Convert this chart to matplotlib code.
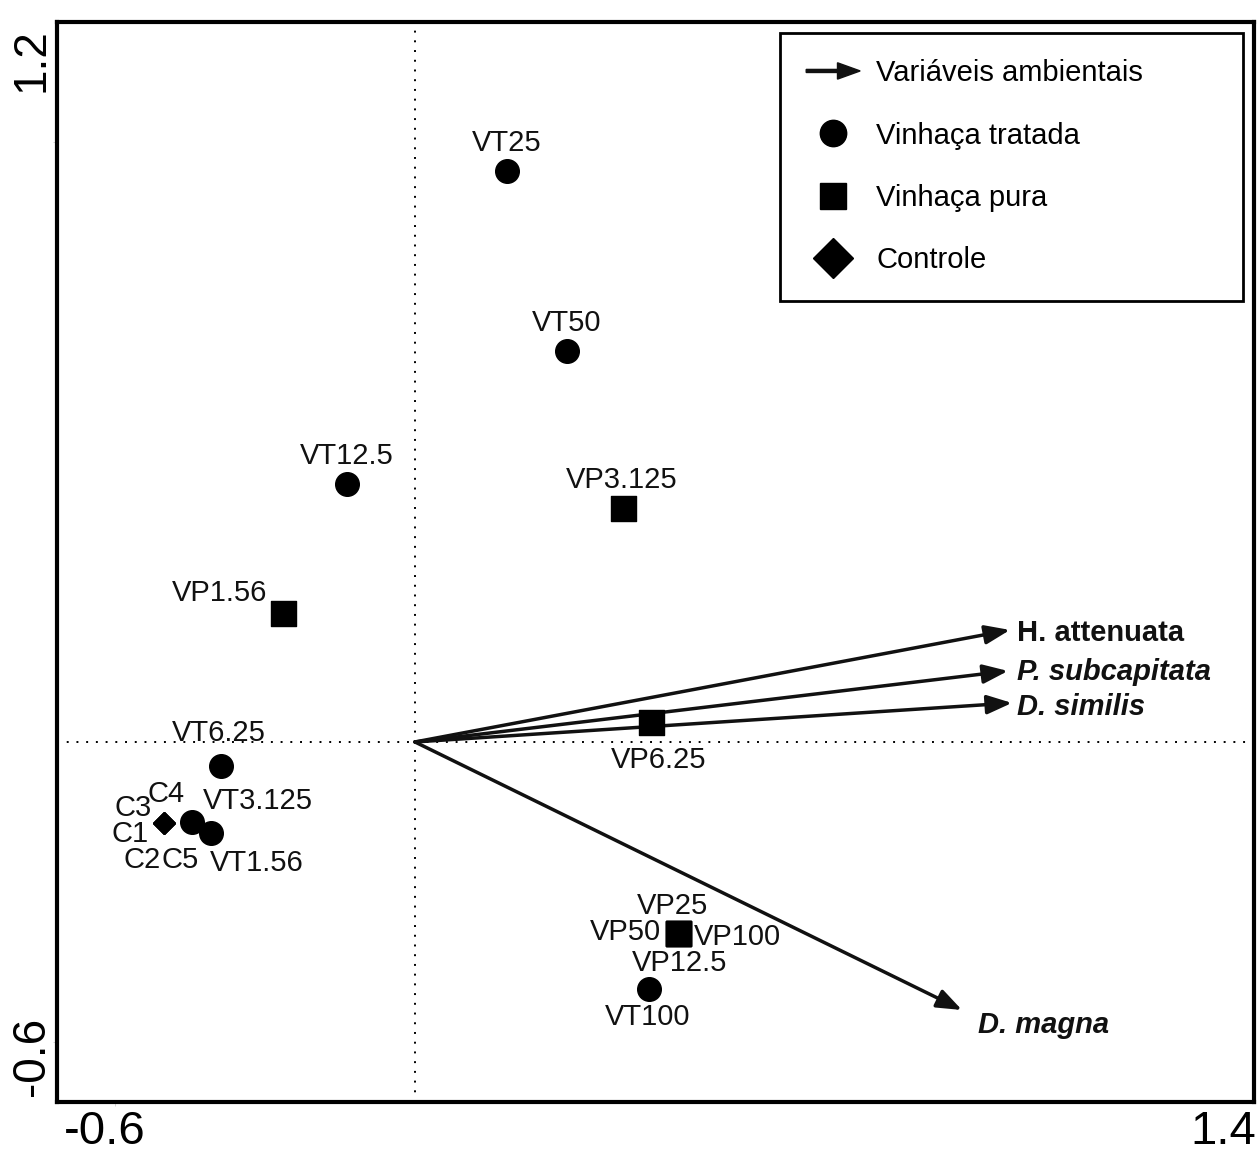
import numpy as np
import matplotlib
matplotlib.use('Agg')
import matplotlib.pyplot as plt
import matplotlib.patches as mpatches
from matplotlib.lines import Line2D
from matplotlib.legend_handler import HandlerPatch

plt.rcParams['font.family'] = ['Liberation Sans', 'DejaVu Sans']

# escores dos tratamentos (eixo 1, eixo 2)
vt_nomes = ['VT25', 'VT50', 'VT12.5', 'VT6.25', 'VT3.125', 'VT1.56', 'VT100']
vt_x = [0.184, 0.304, -0.136, -0.388, -0.446, -0.408, 0.468]
vt_y = [1.142, 0.782, 0.516, -0.048, -0.160, -0.182, -0.494]

vp_nomes = ['VP3.125', 'VP1.56', 'VP6.25', 'VP25', 'VP50', 'VP100', 'VP12.5']
vp_x = [0.416, -0.264, 0.472, 0.526, 0.526, 0.526, 0.526]
vp_y = [0.468, 0.258, 0.040, -0.382, -0.382, -0.382, -0.382]

c_nomes = ['C1', 'C2', 'C3', 'C4', 'C5']
c_x = [-0.502, -0.502, -0.502, -0.502, -0.502]
c_y = [-0.162, -0.162, -0.162, -0.162, -0.162]

# vetores das variaveis ambientais
esp_nomes = ['H. attenuata', 'P. subcapitata', 'D. similis', 'D. magna']
esp_x = [1.190, 1.186, 1.194, 1.094]
esp_y = [0.224, 0.142, 0.078, -0.536]
esp_estilo = ['normal', 'italic', 'italic', 'italic']

# deslocamento dos rotulos (pixels)
desloc = {
    'VT25': (0, 28), 'VT50': (0, 28), 'VT12.5': (0, 28), 'VT6.25': (-2, 33),
    'VT3.125': (66, 21), 'VT1.56': (46, -30), 'VT100': (-1, -28),
    'VP3.125': (-1, 28), 'VP1.56': (-63, 20), 'VP6.25': (8, -38),
    'VP25': (-5, 27), 'VP50': (-53, 1), 'VP100': (59, -4), 'VP12.5': (2, -30),
    'C1': (-34, -11), 'C2': (-22, -37), 'C3': (-31, 15), 'C4': (2, 29), 'C5': (16, -37),
}
desloc_esp = [(7, -3), (9, -1), (5, -4), (16, -15)]


class HandlerSeta(HandlerPatch):
    def create_artists(self, legend, orig_handle, xdescent, ydescent,
                       width, height, fontsize, trans):
        p = mpatches.FancyArrow(0, 0.5 * height, width, 0, width=0.15 * height,
                                length_includes_head=True, head_width=0.8 * height,
                                head_length=0.42 * width, color='#111111')
        p.set_transform(trans)
        return [p]


fig = plt.figure(figsize=(12.57, 11.52), dpi=100)
ax = fig.add_axes([0.0453, 0.0434, 0.9523, 0.9376])
ax.set_xlim(-0.716, 1.678)
ax.set_ylim(-0.72, 1.44)

ax.axhline(0, color='black', lw=1.4, ls=(0, (1, 4)), zorder=1)
ax.axvline(0, color='black', lw=1.4, ls=(0, (1, 4)), zorder=1)

for x, y in zip(esp_x, esp_y):
    ax.annotate('', xy=(x, y), xytext=(0, 0),
                arrowprops=dict(arrowstyle='-|>,head_length=0.42,head_width=0.16',
                                mutation_scale=36, lw=2.5, color='#111111',
                                shrinkA=0, shrinkB=0), zorder=2)
for nome, x, y, est, d in zip(esp_nomes, esp_x, esp_y, esp_estilo, desloc_esp):
    ax.annotate(nome, xy=(x, y), xytext=d, textcoords='offset pixels',
                ha='left', va='center', fontsize=21, fontweight='bold',
                style=est, color='#111111')

ax.scatter(vt_x, vt_y, s=17 ** 2, marker='o', color='black', zorder=3)
ax.scatter(vp_x, vp_y, s=18 ** 2, marker='s', color='black', zorder=3)
ax.scatter(c_x, c_y, s=11 ** 2, marker='D', color='black', zorder=3)

for nomes, xs, ys in [(vt_nomes, vt_x, vt_y), (vp_nomes, vp_x, vp_y), (c_nomes, c_x, c_y)]:
    for nome, x, y in zip(nomes, xs, ys):
        ax.annotate(nome, xy=(x, y), xytext=desloc[nome], textcoords='offset pixels',
                    ha='center', va='center', fontsize=21, color='#111111')

# eixos: apenas os valores extremos
ax.set_xticks([-0.6])
ax.set_yticks([-0.6, 1.2])
ax.tick_params(length=3, width=0.6, color='#cccccc', labelbottom=False, labelleft=False)
for s in ax.spines.values():
    s.set_linewidth(3)
ax.text(0.040, -0.028, '-0.6', transform=ax.transAxes, ha='center', va='center', fontsize=34)
ax.text(0.974, -0.028, '1.4', transform=ax.transAxes, ha='center', va='center', fontsize=34)
ax.text(-0.021, 0.965, '1.2', transform=ax.transAxes, ha='center', va='center',
        rotation=90, fontsize=33)
ax.text(-0.021, 0.0426, '-0.6', transform=ax.transAxes, ha='center', va='center',
        rotation=90, fontsize=33)

seta = mpatches.FancyArrow(0, 0, 1, 0)
h_vt = Line2D([], [], ls='none', marker='o', ms=19, color='black')
h_vp = Line2D([], [], ls='none', marker='s', ms=19, color='black')
h_c = Line2D([], [], ls='none', marker='D', ms=20, color='black')
leg = ax.legend([seta, h_vt, h_vp, h_c],
                ['Variáveis ambientais', 'Vinhaça tratada', 'Vinhaça pura', 'Controle'],
                handler_map={mpatches.FancyArrow: HandlerSeta()},
                loc='upper left', bbox_to_anchor=(0.604, 0.70, 0.387, 0.2898),
                mode='expand', fontsize=21, labelspacing=1.18, borderpad=0.9,
                handlelength=1.85, handletextpad=0.55, borderaxespad=0,
                fancybox=False, framealpha=1, edgecolor='black')
leg.get_frame().set_linewidth(2)

fig.savefig('out.png', dpi=100)
